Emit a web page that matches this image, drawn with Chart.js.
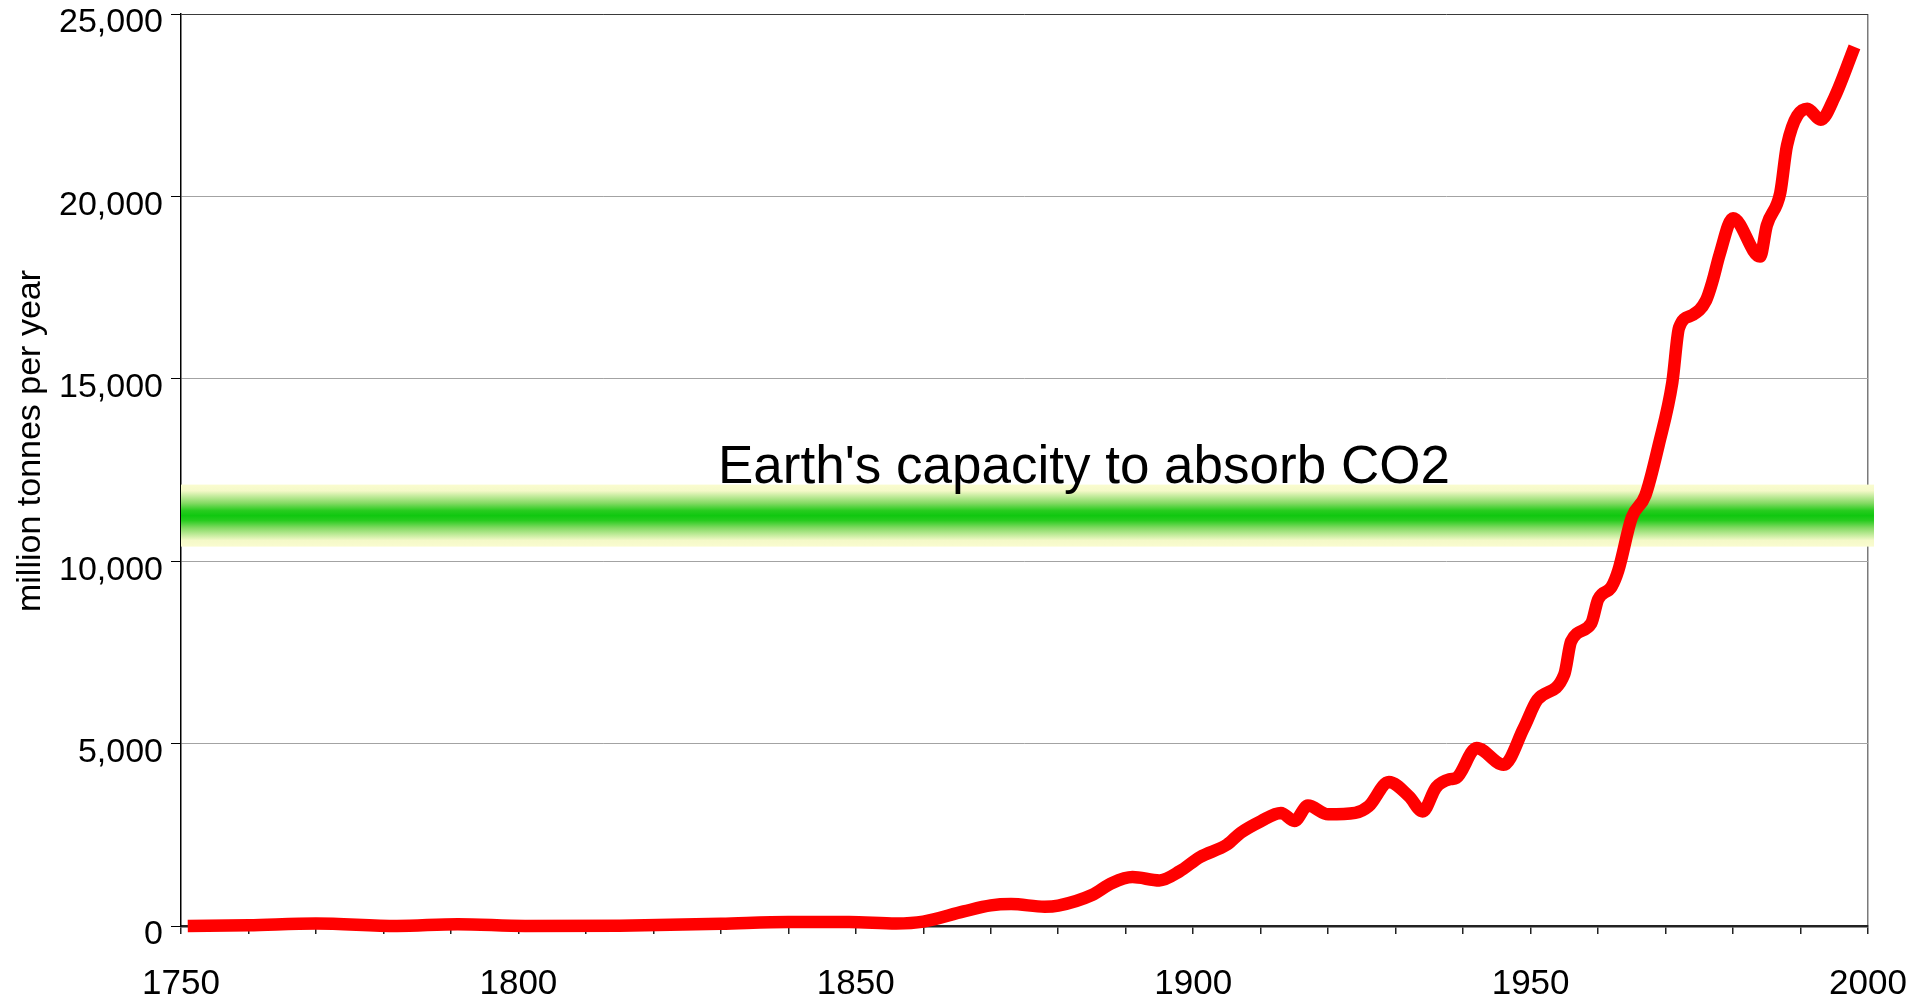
<!DOCTYPE html>
<html>
<head>
<meta charset="utf-8">
<script src="https://cdn.jsdelivr.net/npm/chart.js@4.4.1/dist/chart.umd.min.js"></script>
<style>
  html, body { margin: 0; padding: 0; background: #ffffff; }
  #wrap { width: 1930px; height: 1004px; position: relative; }
</style>
</head>
<body>
<div id="wrap"><canvas id="c"></canvas></div>
<script>
// ---- data ----
const years = [1751, 1760, 1770, 1782, 1791, 1801, 1815, 1830, 1840, 1849, 1856, 1860,
  1866, 1870, 1873, 1878, 1880, 1885, 1888, 1891, 1895, 1898, 1901, 1905, 1907, 1910,
  1913, 1915, 1917, 1920, 1924, 1926, 1929, 1932, 1934, 1936, 1938, 1939, 1942, 1946,
  1949, 1951, 1955, 1956, 1959, 1960, 1962, 1963, 1965, 1967, 1969, 1971, 1972, 1974,
  1976, 1977, 1978, 1980, 1984, 1985, 1987, 1988, 1991, 1993, 1995, 1998];
const emissions = [0, 20, 70, 0, 50, 0, 10, 60, 110, 110, 70, 120,
  400, 565, 600, 530, 560, 850, 1180, 1340, 1250, 1500, 1890, 2230, 2550, 2870,
  3100, 2880, 3300, 3060, 3100, 3280, 3950, 3550, 3140, 3800, 4020, 4060, 4880, 4420,
  5430, 6200, 6900, 7800, 8300, 8950, 9300, 9750, 11200, 11800, 13200, 14900, 16400, 16750,
  17150, 17700, 18400, 19400, 18350, 19200, 20100, 21400, 22400, 22100, 22700, 24100];
const capacity = [11250];       // Earth's capacity to absorb CO2
const capacitySpread = [850];   // half-height of the soft band
const xTickYears = [1750, 1800, 1850, 1900, 1950, 2000];
const yTickValues = [0, 5000, 10000, 15000, 20000, 25000];
const bandLabel = "Earth's capacity to absorb CO2";
const yTitle = "million tonnes per year";

const FONT = "'Liberation Sans', Arial, sans-serif";

const bandPlugin = {
  id: 'band',
  beforeDatasetsDraw(chart) {
    const { ctx, chartArea, scales } = chart;
    const yTop = scales.y.getPixelForValue(capacity[0] + capacitySpread[0]);
    const yBot = scales.y.getPixelForValue(capacity[0] - capacitySpread[0]);
    const g = ctx.createLinearGradient(0, yTop, 0, yBot);
    g.addColorStop(0.00, '#fafcd0');
    g.addColorStop(0.10, '#f4f9c8');
    g.addColorStop(0.30, '#84da64');
    g.addColorStop(0.42, '#28cc1f');
    g.addColorStop(0.50, '#10c810');
    g.addColorStop(0.58, '#28cc1f');
    g.addColorStop(0.70, '#84da64');
    g.addColorStop(0.90, '#f4f9c8');
    g.addColorStop(1.00, '#fafcd0');
    ctx.save();
    ctx.fillStyle = g;
    ctx.fillRect(chartArea.left, yTop, chartArea.right - chartArea.left + 6, yBot - yTop);
    ctx.fillStyle = '#000';
    ctx.font = '53px ' + FONT;
    ctx.textAlign = 'left';
    ctx.textBaseline = 'alphabetic';
    ctx.fillText(bandLabel, 718, yTop - 2);
    ctx.restore();
  },
  afterDraw(chart) {
    const { ctx } = chart;
    ctx.save();
    ctx.translate(40, 441);
    ctx.rotate(-Math.PI / 2);
    ctx.fillStyle = '#000';
    ctx.font = '34px ' + FONT;
    ctx.textAlign = 'center';
    ctx.textBaseline = 'alphabetic';
    ctx.fillText(yTitle, 0, 0);
    ctx.restore();
  }
};

new Chart(document.getElementById('c'), {
  type: 'line',
  data: {
    datasets: [{
      data: years.map((yr, i) => ({ x: yr, y: emissions[i] })),
      borderColor: '#ff0000',
      borderWidth: 12.5,
      pointRadius: 0,
      cubicInterpolationMode: 'monotone',
      borderJoinStyle: 'round',
      borderCapStyle: 'butt',
      fill: false,
      clip: false
    }]
  },
  options: {
    responsive: true,
    maintainAspectRatio: false,
    animation: false,
    events: [],
    layout: { autoPadding: false, padding: { left: 0, right: 62, top: 14, bottom: 0 } },
    plugins: { legend: { display: false }, tooltip: { enabled: false } },
    scales: {
      x: {
        type: 'linear',
        min: xTickYears[0],
        max: xTickYears[xTickYears.length - 1],
        afterFit(s) { s.height = 78; s.paddingLeft = 0; s.paddingRight = 0; s.paddingTop = 0; s.paddingBottom = 0; },
        ticks: {
          stepSize: 10,
          autoSkip: false,
          maxRotation: 0,
          padding: 29,
          color: '#000',
          font: { family: FONT, size: 35 },
          callback: v => (xTickYears.includes(v) ? String(v) : '')
        },
        grid: {
          drawOnChartArea: true,
          color: c => (c.tick && c.tick.value === xTickYears[xTickYears.length - 1]) ? '#7a7a7a' : 'rgba(0,0,0,0)',
          tickColor: '#222',
          tickLength: 8,
          lineWidth: 1.5
        },
        border: { color: '#222', width: 2.5 }
      },
      y: {
        min: yTickValues[0],
        max: yTickValues[yTickValues.length - 1],
        afterFit(s) { s.width = 181; s.paddingTop = 0; s.paddingBottom = 0; s.paddingLeft = 0; s.paddingRight = 0; },
        afterBuildTicks(s) { s.ticks = yTickValues.map(v => ({ value: v })); },
        ticks: {
          padding: 8,
          labelOffset: 9,
          color: '#000',
          font: { family: FONT, size: 34 },
          callback: v => Number(v).toLocaleString('en-US')
        },
        grid: {
          color: c => (c.tick && c.tick.value === yTickValues[yTickValues.length - 1]) ? '#3a3a3a' : '#a3a3a3',
          tickColor: '#000',
          tickLength: 10,
          lineWidth: 1
        },
        border: { color: '#000', width: 1.5 }
      }
    }
  },
  plugins: [bandPlugin]
});
</script>
</body>
</html>
